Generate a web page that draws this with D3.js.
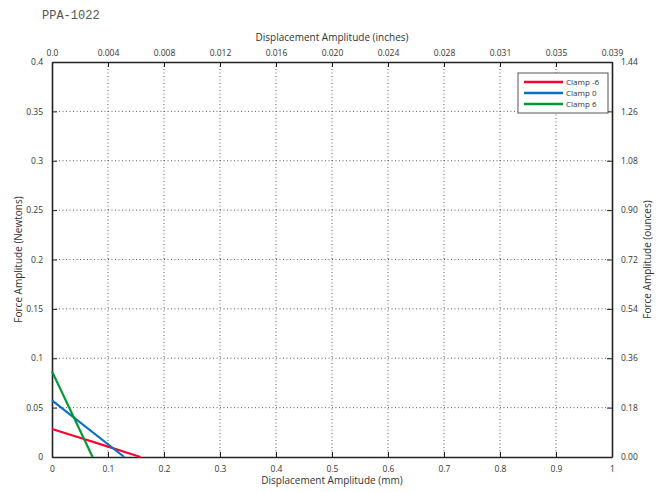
<!DOCTYPE html>
<html><head><meta charset="utf-8">
<script src="https://cdn.jsdelivr.net/npm/d3@7"></script>
<style>body{margin:0;background:#fff}svg{display:block}text{font-family:"Open Sans",sans-serif;fill:#333}</style>
</head><body>
<script>
const title = "PPA-1022";
const xTicksMm = [0,0.1,0.2,0.3,0.4,0.5,0.6,0.7,0.8,0.9,1];
const xTickLabelsMm = ["0","0.1","0.2","0.3","0.4","0.5","0.6","0.7","0.8","0.9","1"];
const xTickLabelsIn = ["0.0","0.004","0.008","0.012","0.016","0.020","0.024","0.028","0.031","0.035","0.039"];
const yTicksN = [0,0.05,0.1,0.15,0.2,0.25,0.3,0.35,0.4];
const yTickLabelsN = ["0","0.05","0.1","0.15","0.2","0.25","0.3","0.35","0.4"];
const yTickLabelsOz = ["0.00","0.18","0.36","0.54","0.72","0.90","1.08","1.26","1.44"];
const seriesNames = ["Clamp -6","Clamp 0","Clamp 6"];
const seriesColors = ["#ff0033","#0a6fc2","#009933"];
const clampM6 = [[0,0.0283],[0.05,0.0195],[0.1,0.0105],[0.13,0.0050],[0.158,0]];
const clamp0 = [[0,0.0574],[0.129,0]];
const clamp6 = [[0,0.0867],[0.0725,0]];
const seriesData = [clampM6, clamp0, clamp6];

const W=662,H=492, L=52,R=612,T=62,B=457;
const svg=d3.select("body").append("svg").attr("width",W).attr("height",H);
const x=d3.scaleLinear().domain([0,1]).range([L,R]);
const y=d3.scaleLinear().domain([0,0.4]).range([B,T]);

svg.append("text").attr("x",42).attr("y",19).text(title)
  .style("font-family","'Liberation Mono',monospace").style("font-size","12px").style("fill","#555");

// grid
const g=svg.append("g");
g.selectAll(".gx").data(xTicksMm.slice(1,-1)).join("line")
  .attr("x1",d=>x(d)).attr("x2",d=>x(d)).attr("y1",T).attr("y2",B)
  .attr("stroke","#333").attr("stroke-width",0.8).attr("stroke-dasharray","1,2.5");
g.selectAll(".gy").data(yTicksN.slice(1,-1)).join("line")
  .attr("y1",d=>y(d)).attr("y2",d=>y(d)).attr("x1",L).attr("x2",R)
  .attr("stroke","#333").attr("stroke-width",0.8).attr("stroke-dasharray","1,2.5");

// axes
const fmt=(labels,ticks)=>(d)=>labels[ticks.indexOf(d)];
const axB=d3.axisBottom(x).tickValues(xTicksMm).tickFormat(fmt(xTickLabelsMm,xTicksMm)).tickSizeInner(-5).tickSizeOuter(0).tickPadding(9);
const axT=d3.axisTop(x).tickValues(xTicksMm).tickFormat(fmt(xTickLabelsIn,xTicksMm)).tickSizeInner(-5).tickSizeOuter(0).tickPadding(6);
const axL=d3.axisLeft(y).tickValues(yTicksN).tickFormat(fmt(yTickLabelsN,yTicksN)).tickSizeInner(-5).tickSizeOuter(0).tickPadding(9);
const axR=d3.axisRight(y).tickValues(yTicksN).tickFormat(fmt(yTickLabelsOz,yTicksN)).tickSizeInner(-5).tickSizeOuter(0).tickPadding(9);
function styleAx(sel){
  sel.selectAll("text").style("font-size","8.5px").style("font-family","'Open Sans',sans-serif").attr("fill","#333");
  sel.selectAll("line").attr("stroke","#222");
  sel.select(".domain").attr("stroke","#222").attr("stroke-width",1.6);
}
svg.append("g").attr("transform",`translate(0,${B})`).call(axB).call(styleAx);
svg.append("g").attr("transform",`translate(0,${T})`).call(axT).call(styleAx);
svg.append("g").attr("transform",`translate(${L},0)`).call(axL).call(styleAx);
svg.append("g").attr("transform",`translate(${R},0)`).call(axR).call(styleAx);

// lines
const line=d3.line().x(d=>x(d[0])).y(d=>y(d[1]));
svg.append("g").selectAll("path").data(seriesData).join("path")
  .attr("d",line).attr("fill","none").attr("stroke",(d,i)=>seriesColors[i]).attr("stroke-width",2.2);

// labels
svg.append("text").attr("x",(L+R)/2).attr("y",41).attr("text-anchor","middle").style("font-size","10px").text("Displacement Amplitude (inches)");
svg.append("text").attr("x",(L+R)/2).attr("y",484).attr("text-anchor","middle").style("font-size","10px").text("Displacement Amplitude (mm)");
svg.append("text").attr("transform",`translate(22,${(T+B)/2}) rotate(-90)`).attr("text-anchor","middle").style("font-size","10px").text("Force Amplitude (Newtons)");
svg.append("text").attr("transform",`translate(651,${(T+B)/2}) rotate(-90)`).attr("text-anchor","middle").style("font-size","10px").text("Force Amplitude (ounces)");

// legend
const lg=svg.append("g").attr("transform","translate(518,73)");
lg.append("rect").attr("width",90).attr("height",40).attr("fill","#fff").attr("stroke","#555").attr("stroke-width",1);
seriesNames.forEach((n,i)=>{
  const yy=9+i*11;
  lg.append("line").attr("x1",6).attr("x2",45).attr("y1",yy).attr("y2",yy).attr("stroke",seriesColors[i]).attr("stroke-width",2.5);
  lg.append("text").attr("x",48).attr("y",yy+3).style("font-size","8px").text(n);
});
</script>
</body></html>
